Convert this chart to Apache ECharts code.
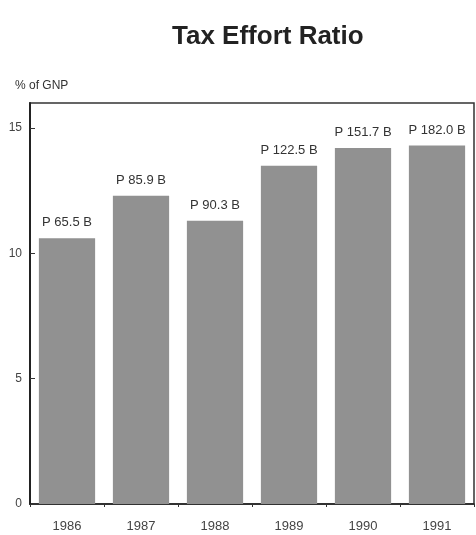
<!DOCTYPE html>
<html>
<head>
<meta charset="utf-8">
<style>
  html, body { margin: 0; padding: 0; background: #fff; }
  #chart { width: 476px; height: 535px; }
</style>
<script src="https://cdn.jsdelivr.net/npm/echarts@6/dist/echarts.min.js"></script>
</head>
<body>
<div id="chart"></div>
<script>
	var years = ['1986', '1987', '1988', '1989', '1990', '1991'];
	// tax effort, % of GNP
	var ratio = [10.6, 12.3, 11.3, 13.5, 14.2, 14.3];
	// collections, billion pesos
	var collections = ['P 65.5 B', 'P 85.9 B', 'P 90.3 B', 'P 122.5 B', 'P 151.7 B', 'P 182.0 B'];
	var yTicks = [0, 5, 10, 15];

	var font = '"Liberation Sans Narrow", "Liberation Sans", Arial, sans-serif';
	var chart = echarts.init(document.getElementById('chart'));

	var chartOption = {
		backgroundColor: '#fff',
		animation: false,
		title: {
			text: 'Tax Effort Ratio',
			left: 167,
			top: 19,
			textStyle: {
				fontFamily: '"Liberation Sans", Arial, sans-serif',
				fontWeight: 'bold',
				fontSize: 26,
				color: '#222'
			}
		},
		graphic: [{
			type: 'text',
			left: 15,
			top: 80,
			style: {
				text: '% of GNP',
				font: '12px ' + font,
				fill: '#333'
			}
		}],
		grid: {
			left: 30,
			right: 2,
			top: 103,
			bottom: 31,
			show: true,
			borderColor: '#333',
			borderWidth: 1.5
		},
		xAxis: {
			type: 'category',
			data: years,
			axisLine: { lineStyle: { color: '#222', width: 1.5 } },
			axisTick: { show: true, length: 3, lineStyle: { color: '#333' } },
			axisLabel: {
				margin: 16,
				fontFamily: font,
				fontSize: 13,
				color: '#444'
			}
		},
		yAxis: {
			type: 'value',
			min: 0,
			max: 16,
			interval: 5,
			splitLine: { show: false },
			axisLine: { show: true, lineStyle: { color: '#222', width: 2 } },
			axisTick: { show: true, inside: true, length: 5, lineStyle: { color: '#333' } },
			axisLabel: {
				showMaxLabel: false,
				margin: 8,
				fontFamily: font,
				fontSize: 12,
				color: '#444',
				formatter: function (v) {
					return yTicks.indexOf(v) >= 0 ? String(v) : '';
				}
			}
		},
		series: [{
			type: 'bar',
			data: ratio,
			barWidth: '76%',
			itemStyle: { color: '#919191' },
			label: {
				show: true,
				position: 'top',
				distance: 9,
				fontFamily: font,
				fontSize: 13,
				color: '#333',
				formatter: function (p) {
					return collections[p.dataIndex];
				}
			}
		}]
	};

	chart.setOption(chartOption);
	window.onresize = chart.resize;
</script>
</body>
</html>
